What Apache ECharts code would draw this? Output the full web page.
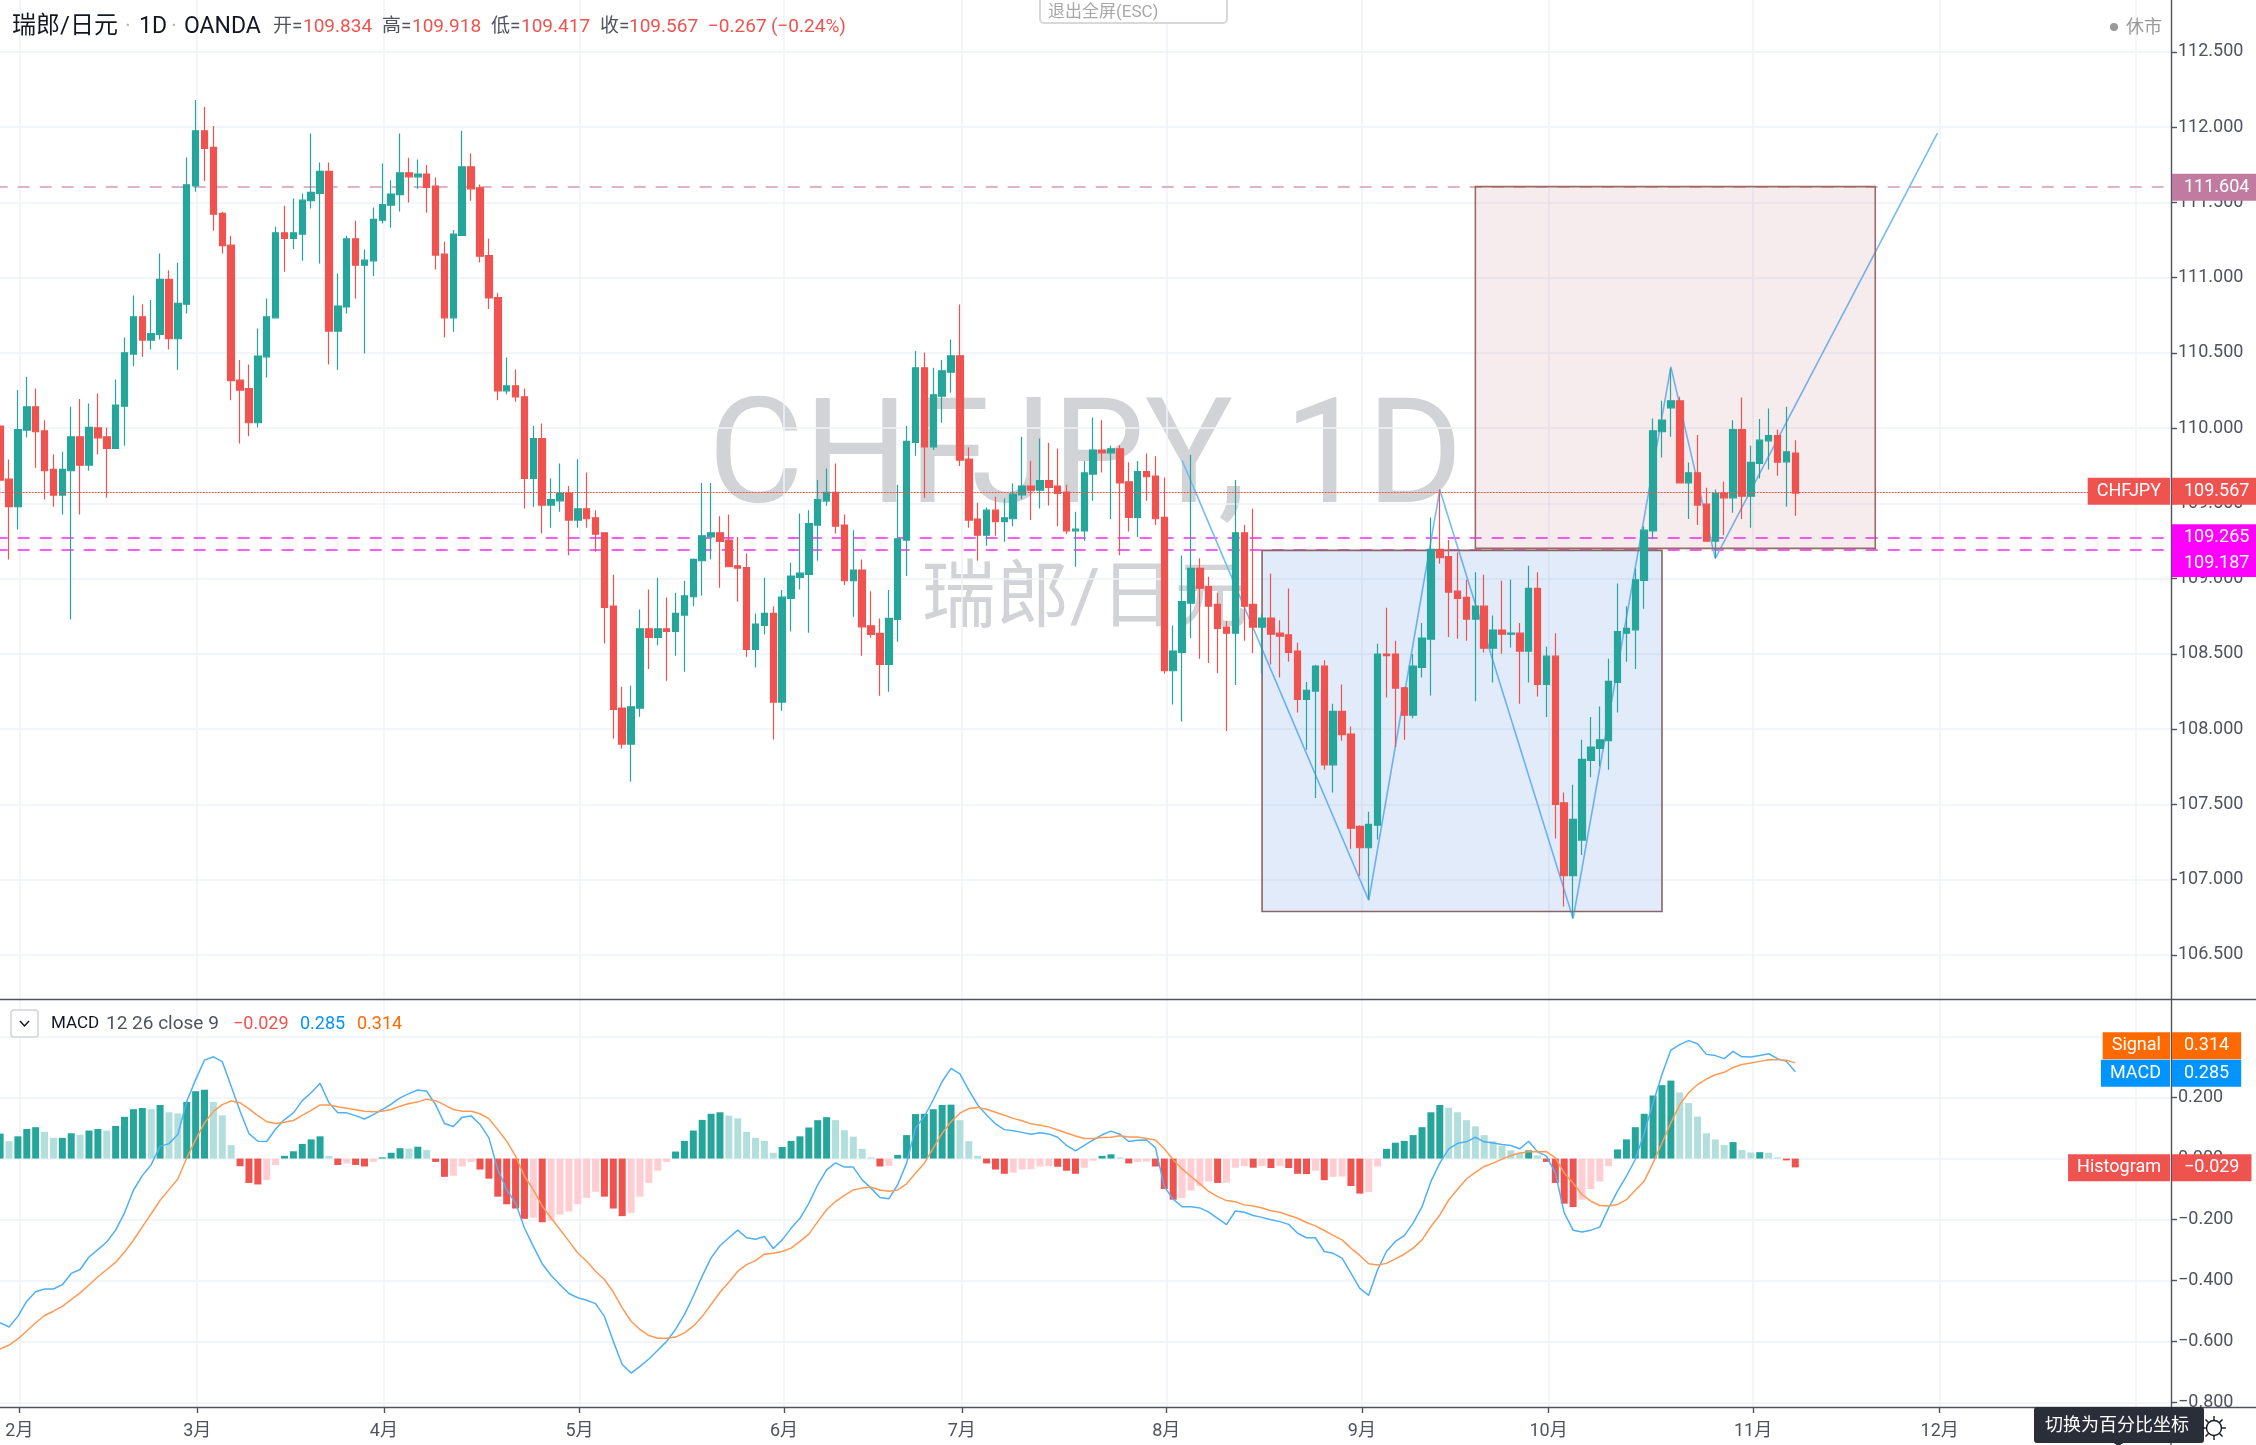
<!DOCTYPE html>
<html>
<head>
<meta charset="utf-8">
<style>html,body{margin:0;padding:0;background:#fff}#c{width:2256px;height:1445px}</style>
<script src="https://cdn.jsdelivr.net/npm/echarts@6/dist/echarts.min.js"></script>
</head>
<body>
<div id="c"></div>
<script>
// Daily bars, first bar is two sessions before the 2月 tick
const opens = [
110.013,109.660,109.477,109.986,110.141,109.981,109.725,109.554,109.716,109.942,
109.753,110.001,109.942,109.864,110.145,110.491,110.739,110.584,110.622,110.987,
110.593,110.823,111.609,111.975,111.864,111.426,111.215,110.318,110.261,110.035,
110.473,110.732,111.297,111.259,111.288,111.510,111.558,111.705,110.644,110.805,
111.257,111.082,111.111,111.381,111.481,111.550,111.696,111.669,111.687,111.607,
111.155,110.732,111.279,111.736,111.596,111.146,110.867,110.247,110.280,110.207,
109.665,109.930,109.488,109.516,109.565,109.388,109.463,109.403,109.304,108.817,
108.139,107.900,108.139,108.666,108.608,108.666,108.648,108.757,108.879,109.118,
109.277,109.304,109.255,109.084,109.073,108.529,108.688,108.768,108.179,108.867,
109.007,109.027,109.355,109.516,109.572,109.355,108.985,109.056,108.686,108.635,
108.429,108.728,109.255,109.904,110.400,109.875,110.212,110.371,110.480,109.793,
109.395,109.288,109.454,109.377,109.397,109.556,109.614,109.587,109.651,109.614,
109.574,109.317,109.317,109.694,109.853,109.835,109.862,109.643,109.406,109.711,
109.680,109.406,108.387,108.509,108.836,109.067,108.947,108.828,108.677,108.637,
109.304,108.828,108.677,108.737,108.637,108.626,108.518,108.196,108.252,108.418,
107.762,108.117,107.966,107.353,107.211,107.361,108.498,108.498,108.274,108.092,
108.409,108.597,109.193,109.146,108.916,108.874,108.730,108.816,108.537,108.657,
108.630,108.637,108.518,108.934,108.296,108.484,107.510,107.025,107.262,107.791,
107.871,107.922,108.309,108.637,108.659,108.987,109.317,109.975,110.134,110.181,
109.636,109.702,109.494,109.248,109.565,109.536,109.990,109.547,109.764,109.915,
109.950,109.775,109.834];
const closes = [
109.654,109.477,109.990,110.141,109.975,109.716,109.554,109.725,109.942,109.753,
110.004,109.935,109.864,110.152,110.500,110.739,110.584,110.628,110.987,110.593,
110.828,111.616,111.975,111.857,111.421,111.211,110.314,110.252,110.035,110.478,
110.739,111.297,111.259,111.297,111.514,111.565,111.705,110.644,110.810,111.257,
111.082,111.115,111.386,111.485,111.554,111.696,111.669,111.687,111.598,111.149,
110.732,111.288,111.736,111.589,111.142,110.865,110.247,110.280,110.207,109.665,
109.930,109.488,109.525,109.565,109.388,109.463,109.397,109.295,108.808,108.130,
107.900,108.148,108.666,108.608,108.666,108.648,108.768,108.885,109.127,109.284,
109.304,109.246,109.078,109.069,108.529,108.697,108.768,108.179,108.876,109.016,
109.036,109.364,109.525,109.572,109.348,108.985,109.056,108.679,108.628,108.429,
108.735,109.264,109.911,110.400,109.875,110.221,110.380,110.480,109.787,109.388,
109.288,109.454,109.377,109.403,109.561,109.614,109.587,109.651,109.605,109.565,
109.317,109.328,109.702,109.853,109.835,109.862,109.636,109.406,109.711,109.676,
109.397,108.387,108.518,108.847,109.067,108.936,108.816,108.668,108.637,109.304,
108.816,108.677,108.737,108.630,108.617,108.509,108.196,108.256,108.418,107.762,
108.117,107.962,107.341,107.211,107.366,108.498,108.487,108.272,108.092,108.418,
108.604,109.193,109.138,108.909,108.867,108.730,108.816,108.537,108.657,108.630,
108.637,108.518,108.934,108.296,108.484,107.499,107.025,107.399,107.798,107.880,
107.928,108.316,108.648,108.668,108.991,109.321,109.981,110.052,110.181,109.636,
109.702,109.488,109.248,109.565,109.536,109.990,109.547,109.771,109.919,109.950,
109.773,109.842,109.567];
const highs = [
110.030,109.791,110.252,110.340,110.263,110.052,109.826,109.842,110.141,110.192,
110.163,110.230,110.004,110.323,110.602,110.881,110.823,110.850,111.160,111.049,
111.098,111.798,112.179,112.134,112.006,111.437,111.277,110.451,110.422,110.661,
110.861,111.337,111.476,111.525,111.558,111.957,111.764,111.764,111.027,111.277,
111.377,111.186,111.465,111.758,111.647,111.957,111.795,111.784,111.747,111.665,
111.237,111.315,111.975,111.824,111.618,111.257,110.898,110.469,110.389,110.263,
110.013,110.030,109.665,109.764,109.614,109.793,109.705,109.454,109.304,109.025,
108.281,108.287,108.794,108.927,109.005,108.874,108.905,108.985,109.133,109.634,
109.634,109.414,109.426,109.275,109.166,108.768,109.005,108.816,108.923,109.104,
109.432,109.454,109.654,109.731,109.764,109.426,109.321,109.127,108.916,108.735,
108.923,109.623,110.013,110.511,110.502,110.400,110.451,110.588,110.821,109.871,
109.503,109.472,109.543,109.532,109.632,109.942,109.782,109.930,109.902,109.864,
109.623,109.443,109.780,110.070,110.052,109.882,109.886,109.773,109.780,109.831,
109.813,109.671,108.688,109.153,109.822,109.135,109.011,108.905,108.717,109.654,
109.355,109.463,108.768,109.034,108.723,108.934,108.573,108.312,108.427,108.456,
108.168,108.296,108.017,107.361,107.450,108.566,108.805,108.586,108.281,108.498,
108.704,109.406,109.592,109.255,109.173,108.991,109.042,109.025,108.754,108.985,
108.991,108.704,109.084,109.042,108.546,108.637,107.578,107.629,107.928,108.079,
108.150,108.467,108.967,108.816,109.067,109.348,110.063,110.181,110.396,110.207,
109.771,109.953,109.603,109.592,109.643,110.052,110.203,109.882,110.059,110.130,
109.990,110.141,109.918];
const lows = [
109.510,109.127,109.326,109.937,109.736,109.525,109.477,109.426,108.728,109.426,
109.716,109.824,109.536,109.864,109.882,110.411,110.473,110.522,110.588,110.522,
110.385,110.761,111.569,111.640,111.310,111.160,110.185,109.897,109.946,110.004,
110.336,110.732,111.038,111.189,111.111,111.459,111.093,110.422,110.385,110.761,
110.861,110.495,111.009,111.359,111.330,111.439,111.499,111.589,111.430,111.053,
110.602,110.639,111.279,111.510,111.100,110.790,110.185,110.225,110.174,109.465,
109.477,109.299,109.337,109.443,109.155,109.337,109.337,109.178,108.568,107.937,
107.871,107.649,108.081,108.398,108.557,108.320,108.487,108.380,108.816,108.885,
109.127,108.938,109.078,108.845,108.480,108.409,108.628,107.931,108.121,108.648,
108.927,108.639,109.118,109.483,109.299,108.956,108.746,108.487,108.606,108.221,
108.247,108.580,109.016,109.815,109.536,109.853,110.035,110.234,109.747,109.337,
109.118,109.217,109.284,109.244,109.348,109.527,109.388,109.465,109.485,109.348,
109.295,109.078,109.251,109.516,109.705,109.395,109.155,109.313,109.275,109.516,
109.355,108.367,108.163,108.050,108.604,108.467,108.438,108.371,107.986,108.292,
108.586,108.504,108.367,108.429,108.343,108.447,108.110,107.862,107.541,107.729,
107.578,107.922,107.204,107.025,106.867,107.266,108.210,107.880,107.928,108.072,
108.343,108.223,109.098,108.611,108.600,108.586,108.185,108.509,108.309,108.500,
108.542,108.168,108.309,108.216,108.079,107.273,106.821,106.741,107.162,107.680,
107.753,107.729,108.110,108.447,108.398,108.799,109.260,109.804,109.942,109.636,
109.395,109.355,109.248,109.133,109.288,109.437,109.395,109.337,109.665,109.725,
109.682,109.477,109.417];
const macdLine = [
-.539,-.553,-.518,-.468,-.437,-.428,-.428,-.414,-.377,-.364,
-.323,-.299,-.274,-.235,-.178,-.104,-.056,-.02,.04,.049,
.079,.188,.259,.323,.334,.318,.237,.155,.082,.057,
.056,.097,.128,.15,.19,.216,.247,.183,.15,.15,
.141,.13,.144,.161,.179,.199,.213,.225,.221,.177,
.115,.105,.136,.14,.112,.068,-.036,-.102,-.146,-.228,
-.288,-.345,-.384,-.414,-.443,-.457,-.465,-.476,-.518,-.6,
-.676,-.704,-.682,-.658,-.629,-.6,-.561,-.512,-.452,-.386,
-.326,-.286,-.26,-.235,-.26,-.265,-.256,-.295,-.267,-.229,
-.196,-.147,-.086,-.037,-.014,-.028,-.028,-.07,-.097,-.128,
-.132,-.086,-.015,.1,.138,.193,.253,.296,.278,.225,
.176,.143,.114,.095,.091,.086,.08,.085,.081,.07,
.043,.025,.043,.061,.078,.09,.08,.056,.06,.061,
.036,-.092,-.133,-.158,-.158,-.162,-.176,-.196,-.217,-.172,
-.176,-.187,-.193,-.201,-.207,-.216,-.245,-.26,-.26,-.305,
-.311,-.327,-.376,-.426,-.449,-.365,-.305,-.272,-.253,-.212,
-.158,-.075,-.015,.032,.05,.055,.07,.055,.051,.046,
.043,.032,.057,.022,.008,-.047,-.178,-.235,-.241,-.235,
-.225,-.162,-.107,-.058,-.003,.084,.183,.276,.356,.374,
.387,.377,.342,.338,.328,.352,.334,.333,.338,.344,
.328,.319,.285];
const signalLine = [
-.625,-.612,-.592,-.566,-.539,-.515,-.501,-.485,-.463,-.441,
-.415,-.388,-.364,-.34,-.307,-.268,-.224,-.181,-.137,-.102,
-.067,.002,.062,.117,.155,.177,.189,.183,.163,.141,
.121,.115,.119,.125,.142,.158,.176,.176,.17,.165,
.16,.155,.154,.155,.161,.172,.181,.186,.195,.19,
.176,.161,.155,.155,.147,.131,.095,.057,.008,-.058,
-.102,-.156,-.195,-.233,-.271,-.31,-.337,-.37,-.397,-.438,
-.49,-.534,-.561,-.581,-.59,-.59,-.586,-.572,-.55,-.518,
-.479,-.439,-.406,-.37,-.348,-.335,-.314,-.311,-.305,-.294,
-.272,-.248,-.207,-.168,-.141,-.121,-.103,-.097,-.094,-.103,
-.107,-.103,-.083,-.048,-.015,.034,.083,.121,.149,.164,
.168,.162,.152,.142,.132,.124,.114,.109,.104,.094,
.084,.074,.066,.066,.069,.07,.075,.071,.071,.066,
.061,.032,-.004,-.034,-.059,-.083,-.108,-.125,-.138,-.142,
-.152,-.156,-.162,-.171,-.176,-.186,-.196,-.21,-.221,-.236,
-.252,-.267,-.294,-.318,-.345,-.349,-.344,-.329,-.314,-.294,
-.267,-.223,-.185,-.136,-.101,-.067,-.045,-.026,-.015,-.002,
.01,.018,.022,.022,.023,.002,-.047,-.08,-.118,-.14,
-.154,-.156,-.151,-.135,-.104,-.074,-.014,.051,.117,.177,
.216,.243,.261,.275,.283,.299,.309,.314,.319,.324,
.324,.323,.314];
const histogram = [
.082,.057,.073,.097,.103,.088,.068,.068,.083,.078,
.092,.097,.092,.107,.137,.162,.166,.162,.176,.152,
.148,.186,.221,.226,.186,.142,.044,-.025,-.08,-.085,
-.07,-.021,.009,.024,.048,.063,.073,.009,-.021,-.016,
-.021,-.026,-.011,.004,.019,.034,.033,.039,.028,-.011,
-.06,-.056,-.026,-.011,-.036,-.066,-.125,-.15,-.164,-.198,
-.194,-.209,-.204,-.184,-.174,-.15,-.129,-.109,-.125,-.164,
-.189,-.178,-.125,-.08,-.04,-.011,.023,.058,.092,.127,
.147,.152,.141,.132,.088,.068,.058,.019,.038,.058,
.073,.102,.126,.136,.126,.093,.072,.032,.004,-.026,
-.024,.012,.077,.146,.147,.162,.176,.177,.126,.057,
.009,-.016,-.036,-.05,-.046,-.036,-.035,-.026,-.025,-.027,
-.04,-.05,-.03,-.007,.009,.014,.004,-.016,-.011,-.01,
-.026,-.1,-.135,-.13,-.105,-.09,-.075,-.08,-.079,-.03,
-.025,-.03,-.025,-.031,-.025,-.031,-.05,-.051,-.04,-.071,
-.06,-.059,-.09,-.115,-.11,-.026,.032,.052,.058,.077,
.103,.152,.176,.167,.152,.126,.106,.077,.057,.042,
.027,.019,.027,.01,-.011,-.08,-.148,-.159,-.135,-.1,
-.075,-.025,.03,.063,.103,.147,.207,.241,.256,.217,
.182,.138,.083,.063,.044,.054,.028,.02,.021,.019,
.004,-.006,-.029];
// Bar numbers count from the 2月 tick (bar 0)
const monthBars = [0,20,41,63,86,106,129,151,172,195,216,238];
const monthLabels = ['2月','3月','4月','5月','6月','7月','8月','9月','10月','11月','12月',''];
const patternBars = [131,152,160,175,186,191,216];
const patternPrices = [109.785,106.862,109.59,106.74,110.406,109.134,111.96];
const blueBox = {from:140,to:185,top:109.187,bottom:106.787};
const pinkBox = {from:164,to:209,top:111.604,bottom:109.2};
const levelMauve = 111.604, levelMagentaA = 109.265, levelMagentaB = 109.187, lastPrice = 109.567;
const priceTicks = {min:106.5,max:113,interval:0.5};
const macdTicks = {min:-0.8,max:0.4,interval:0.2};

const FONT = 'Roboto,"Noto Sans CJK SC",sans-serif';
const TXT = '#50535e', GRID = '#eef3f8', UP = '#26a69a', DOWN = '#ef5350';
const LEAD = 2, BANDS = 245;
const candleCats = Array.from({length:BANDS},(_,k)=>String(k-LEAD));
const BG_LEAD = 3, BG_N = 256;
const bgCats = Array.from({length:BG_N},(_,k)=>{
  const m = monthBars.indexOf(k-BG_LEAD);
  return m>=0 ? monthLabels[m] : 'x'+k;
});
const isMonth = i => monthBars.indexOf(i-BG_LEAD)>=0;
const candles = opens.map((o,i)=>[o,closes[i],lows[i],highs[i]]);
const histColor = i=>{
  const v=histogram[i], p=i>0?histogram[i-1]:v;
  return v>=0 ? (v>=p?UP:'#b2dfdb') : (v<p?DOWN:'#ffcdd2');
};
const fmt = v=>v.toFixed(3).replace('-','\u2212');
const HIDE = {color:'rgba(0,0,0,0)',width:0};
const tag = (y,text,color,extra)=>({
  yAxis:y, lineStyle:HIDE,
  label:Object.assign({show:true,opacity:1,position:'end',distance:-1,formatter:text,color:'#fff',backgroundColor:color,
    fontFamily:FONT,fontSize:18,lineHeight:17,padding:[5,8,5,12],align:'left'},extra||{})
});
const tagL = (y,text,color,extra)=>({
  yAxis:y, lineStyle:HIDE,
  label:Object.assign({show:true,opacity:1,position:'insideEnd',distance:3,formatter:text,color:'#fff',backgroundColor:color,
    fontFamily:FONT,fontSize:18,lineHeight:17,padding:[5,9,5,9]},extra||{})
});
const t=(text,x,y,size,fill,opt)=>Object.assign({type:'text',z:50,style:{text,x,y,fill,
  font:size+'px '+FONT,textAlign:'left',align:'left',textVerticalAlign:'middle',verticalAlign:'middle'}},opt||{});
const ln=(x1,y1,x2,y2,stroke,w)=>({type:'line',z:50,shape:{x1,y1,x2,y2},style:{stroke,lineWidth:w||1.4}});

const graphics = [
  {type:'text',z:-1,style:{text:'CHFJPY,',x:708,y:465,fill:'#d2d3d7',font:'147px '+FONT,textAlign:'left',align:'left',textVerticalAlign:'middle',verticalAlign:'middle'}},
  {type:'text',z:-1,style:{text:'1D',x:1463,y:465,fill:'#d2d3d7',font:'147px '+FONT,textAlign:'right',align:'right',textVerticalAlign:'middle',verticalAlign:'middle'}},
  {type:'text',z:-1,style:{text:'瑞郎/日元',x:1085,y:602,fill:'#d2d3d7',font:'74px '+FONT,textAlign:'center',align:'center',textVerticalAlign:'middle',verticalAlign:'middle'}},
  t('瑞郎/日元',12,27,24,'#131722'),t('·',125,27,22,'#b2b5be'),t('1D',139,27,23,'#131722'),t('·',171,27,22,'#b2b5be'),t('OANDA',184,27,23,'#131722'),
  t('开=',273,27,19,TXT),t('109.834',303,27,19,DOWN),
  t('高=',382,27,19,TXT),t('109.918',412,27,19,DOWN),
  t('低=',491,27,19,TXT),t('109.417',521,27,19,DOWN),
  t('收=',600,27,19,TXT),t('109.567',629,27,19,DOWN),
  t('\u22120.267',708,27,19,DOWN),t('(\u22120.24%)',771,27,19,DOWN),
  {type:'rect',z:50,shape:{x:1040,y:-6,width:187,height:29,r:4},style:{fill:'#fff',stroke:'#d8d8d8',lineWidth:2}},
  t('退出全屏(ESC)',1048,13,17,'#a8a8a8'),
  {type:'circle',z:50,shape:{cx:2114,cy:27,r:4},style:{fill:'#999'}},
  t('休市',2126,28,18,'#9a9a9a'),
  {type:'rect',z:50,shape:{x:11,y:1010,width:27,height:27,r:3},style:{fill:'#fff',stroke:'#d1d4dc',lineWidth:1.5}},
  {type:'polyline',z:50,shape:{points:[[20,1021],[24.5,1026],[29,1021]]},style:{stroke:'#131722',fill:null,lineWidth:1.5}},
  t('MACD',51,1024,17,'#131722'),t('12 26 close 9',106,1024,19,TXT),
  t('\u22120.029',233,1024,18,DOWN),t('0.285',300,1024,18,'#0094ff'),t('0.314',357,1024,18,'#ff6a00'),
  ln(2171,1407,2171,1445,TXT),
  {type:'rect',z:50,shape:{x:2034,y:1407,width:170,height:36,r:3},style:{fill:'#2a2e39'}},
  {type:'polygon',z:50,shape:{points:[[2112,1442],[2125,1442],[2118.5,1446]]},style:{fill:'#2a2e39'}},
  t('切换为百分比坐标',2045,1426,18,'#ffffff'),
  {type:'circle',z:50,shape:{cx:2214,cy:1428,r:7.5},style:{fill:'#fff',stroke:'#131722',lineWidth:1.4}},
  ln(2214,1416,2214,1420,'#131722'),ln(2214,1436,2214,1440,'#131722'),ln(2202,1428,2206,1428,'#131722'),ln(2222,1428,2226,1428,'#131722'),
  ln(2205.5,1419.5,2208.5,1422.5,'#131722'),ln(2219.5,1433.5,2222.5,1436.5,'#131722'),ln(2205.5,1436.5,2208.5,1433.5,'#131722'),ln(2219.5,1422.5,2222.5,1419.5,'#131722')
];

const bgX = (gridIndex,labels)=>({
  type:'category',gridIndex,data:bgCats,boundaryGap:false,
  axisLine:{onZero:false,lineStyle:{color:TXT,width:1.4}},
  axisTick:{show:labels,length:6,interval:(i)=>isMonth(i),lineStyle:{color:TXT,width:1.4}},
  axisLabel:{show:labels,interval:(i)=>isMonth(i),margin:15,color:TXT,fontFamily:FONT,fontSize:18},
  splitLine:{show:true,interval:(i)=>isMonth(i),lineStyle:{color:GRID,width:1.5}}
});
const bgY = gridIndex=>({
  type:'value',gridIndex,min:0,max:1,position:'right',offset:-88.75,
  axisLine:{show:true,onZero:false,lineStyle:{color:TXT,width:1.4}},
  axisTick:{show:false},axisLabel:{show:false},splitLine:{show:false}
});
const frontX = gridIndex=>({type:'category',gridIndex,data:candleCats,boundaryGap:true,show:false});
const frontY = (gridIndex,r,hideTop)=>({
  type:'value',gridIndex,min:r.min,max:r.max,interval:r.interval,position:'right',offset:-2,scale:true,
  axisLine:{show:false,onZero:false},
  axisTick:{show:true,length:6,lineStyle:{color:TXT,width:1.4}},
  axisLabel:{margin:7,color:TXT,fontFamily:FONT,fontSize:18,formatter:fmt,showMaxLabel:!hideTop},
  splitLine:{show:true,lineStyle:{color:GRID,width:1.5}}
});

const dashed=(y,color,w)=>({yAxis:y,lineStyle:{color,width:w,type:[12,10]},label:{show:false}});

const option = {
  animation:false,
  backgroundColor:'#ffffff',
  grid:[
    {left:-4.32,width:2177.3,top:-23.5,height:978.25,outerBoundsMode:'none',containLabel:false},
    {left:-4.32,width:2177.3,top:1036.7,height:365.6,outerBoundsMode:'none',containLabel:false},
    {left:-7.25,width:2267,top:0,height:999,outerBoundsMode:'none',containLabel:false},
    {left:-7.25,width:2267,top:1000,height:407,outerBoundsMode:'none',containLabel:false}
  ],
  xAxis:[frontX(0),frontX(1),bgX(2,false),bgX(3,true)],
  yAxis:[frontY(0,priceTicks,false),frontY(1,macdTicks,true),bgY(2),bgY(3)],
  graphic:{elements:graphics},
  series:[
    {type:'line',name:'levels',xAxisIndex:0,yAxisIndex:0,data:[],z:1,silent:true,
      markLine:{z:1,silent:true,symbol:'none',animation:false,data:[
        dashed(levelMauve,'#dfb3c8',2),dashed(levelMagentaA,'#ff5cff',2),dashed(levelMagentaB,'#ff5cff',2)
      ]}},
    {type:'line',name:'pattern',xAxisIndex:0,yAxisIndex:0,z:1,silent:true,symbol:'none',
      data:patternBars.map((b,i)=>[b+LEAD,patternPrices[i]]),
      lineStyle:{color:'#74bcf7',width:1.6}},
    {type:'line',name:'boxes',xAxisIndex:0,yAxisIndex:0,data:[],z:2,silent:true,
      markArea:{z:2,silent:true,animation:false,data:[
        [{xAxis:blueBox.from+LEAD,yAxis:blueBox.top,itemStyle:{color:'rgba(33,100,220,0.13)',borderColor:'#8a6466',borderWidth:1.6}},
         {xAxis:blueBox.to+LEAD,yAxis:blueBox.bottom}],
        [{xAxis:pinkBox.from+LEAD,yAxis:pinkBox.top,itemStyle:{color:'rgba(150,40,70,0.09)',borderColor:'#9a6a66',borderWidth:1.6}},
         {xAxis:pinkBox.to+LEAD,yAxis:pinkBox.bottom}]
      ]}},
    {type:'candlestick',name:'瑞郎/日元',xAxisIndex:0,yAxisIndex:0,z:3,silent:true,data:candles,barWidth:7,
      itemStyle:{color:UP,color0:DOWN,borderColor:UP,borderColor0:DOWN,borderWidth:1.2}},
    {type:'line',name:'last',xAxisIndex:0,yAxisIndex:0,data:[],z:4,silent:true,
      markLine:{z:4,silent:true,symbol:'none',animation:false,data:[
        {yAxis:lastPrice,lineStyle:{color:DOWN,width:1.2,type:[2,1]},label:{show:false}}
      ]}},
    {type:'line',name:'tags',xAxisIndex:0,yAxisIndex:0,data:[],z:6,silent:true,
      markLine:{z:6,silent:true,symbol:'none',animation:false,data:[
        tag(levelMauve,'111.604','#c27ba0'),
        tag(levelMagentaA,'109.265','#ff00ff'),
        tag(109.096,'109.187','#ff00ff'),
        tag(lastPrice+0.01,'109.567',DOWN),
        tagL(lastPrice+0.01,'CHFJPY',DOWN)
      ]}},
    {type:'bar',name:'Histogram',xAxisIndex:1,yAxisIndex:1,z:2,silent:true,barWidth:7,
      data:histogram.map((v,i)=>({value:v,itemStyle:{color:histColor(i)}}))},
    {type:'line',name:'MACD',xAxisIndex:1,yAxisIndex:1,z:3,silent:true,symbol:'none',data:macdLine,lineStyle:{color:'#4fb0f6',width:1.5}},
    {type:'line',name:'Signal',xAxisIndex:1,yAxisIndex:1,z:3,silent:true,symbol:'none',data:signalLine,lineStyle:{color:'#ff9a55',width:1.5}},
    {type:'line',name:'macdTags',xAxisIndex:1,yAxisIndex:1,data:[],z:6,silent:true,
      markLine:{z:6,silent:true,symbol:'none',animation:false,data:[
        tag(0.372,'0.314','#ff6a00',{padding:[5,12,5,12]}),
        tagL(0.372,'Signal','#ff6a00'),
        tag(0.285,'0.285','#0094ff',{padding:[5,12,5,12]}),
        tagL(0.285,'MACD','#0094ff'),
        tag(-0.026,'\u22120.029',DOWN,{padding:[5,12,5,12]}),
        tagL(-0.026,'Histogram',DOWN)
      ]}}
  ]
};
const chart = echarts.init(document.getElementById('c'),null,{renderer:'canvas',width:2256,height:1445});
chart.setOption(option);
</script>
</body>
</html>
